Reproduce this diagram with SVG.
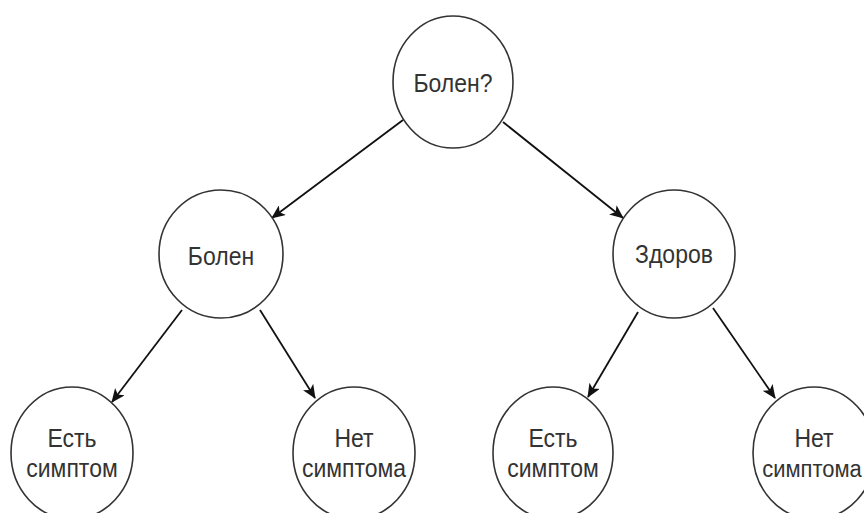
<svg xmlns="http://www.w3.org/2000/svg" width="864" height="513" viewBox="0 0 864 513">
<style>
.node ellipse{fill:#fff;stroke:#333;stroke-width:1.6}
.node text{font-family:"Liberation Sans",Arial,sans-serif;font-size:23px;fill:#333;text-anchor:middle}
.edge{stroke:#111;stroke-width:1.8;fill:none;marker-end:url(#arr)}
</style>
<defs>
<marker id="arr" markerWidth="14" markerHeight="12" refX="13" refY="6" orient="auto" markerUnits="userSpaceOnUse">
<path d="M0,0 L14,6 L0,12 L3.5,6 Z" fill="#111"/>
</marker>
</defs>
<rect width="864" height="513" fill="#fff"/>
<g id="connectors">
<line class="edge" x1="403" y1="120" x2="272" y2="218"/>
<line class="edge" x1="503" y1="122" x2="623" y2="218"/>
<line class="edge" x1="182" y1="310" x2="112" y2="402"/>
<line class="edge" x1="260" y1="310" x2="315" y2="398"/>
<line class="edge" x1="638" y1="312" x2="588" y2="397"/>
<line class="edge" x1="713" y1="308" x2="775" y2="398"/>
</g>
<g id="root" class="node">
<ellipse cx="453" cy="82" rx="60" ry="66"/>
<text transform="translate(453,92) scale(1,1.12)">Болен?</text>
</g>
<g id="sick" class="node">
<ellipse cx="221" cy="254" rx="62" ry="64"/>
<text transform="translate(221,265) scale(1,1.12)">Болен</text>
</g>
<g id="healthy" class="node">
<ellipse cx="674" cy="254" rx="61" ry="64"/>
<text transform="translate(674,263) scale(1,1.12)">Здоров</text>
</g>
<g id="sick-sym" class="node">
<ellipse cx="72" cy="453" rx="61" ry="66"/>
<text transform="translate(72,447) scale(1,1.12)">Есть</text>
<text transform="translate(72,477) scale(1,1.12)">симптом</text>
</g>
<g id="sick-nosym" class="node">
<ellipse cx="354" cy="453" rx="61" ry="66"/>
<text transform="translate(354,447) scale(1,1.12)">Нет</text>
<text transform="translate(354,477) scale(1,1.12)">симптома</text>
</g>
<g id="healthy-sym" class="node">
<ellipse cx="553" cy="453" rx="60" ry="66"/>
<text transform="translate(553,447) scale(1,1.12)">Есть</text>
<text transform="translate(553,477) scale(1,1.12)">симптом</text>
</g>
<g id="healthy-nosym" class="node">
<ellipse cx="814" cy="453" rx="61" ry="66"/>
<text transform="translate(814,447) scale(1,1.12)">Нет</text>
<text transform="translate(812,477) scale(1,1.12)" style="font-size:22px">симптома</text>
</g>
</svg>
